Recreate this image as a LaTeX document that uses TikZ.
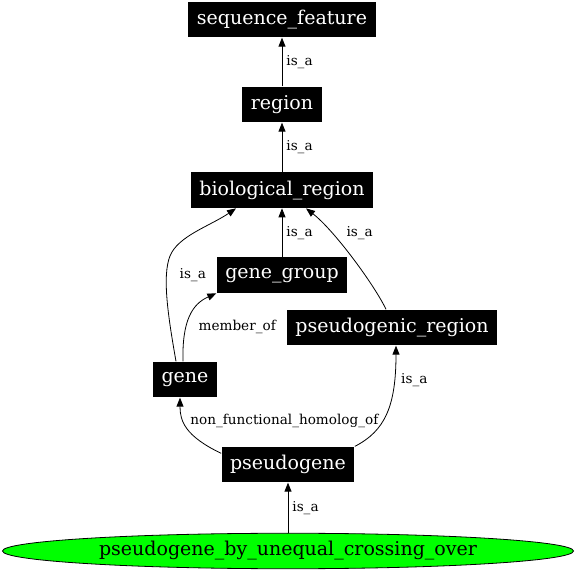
\documentclass[tikz,border=0pt]{standalone}
\usepackage{fontspec}
\setmainfont{DejaVu Serif}
\usetikzlibrary{arrows.meta,shapes.geometric}
\begin{document}
\begin{tikzpicture}
	[x=1pt,y=1pt,>={Triangle[length=9pt,width=7pt]},line width=.8pt,
	every node/.style={rectangle,
	fill=black,text=white,
	inner xsep=8.5pt,minimum height=35.5pt,
	font=\fontsize{19}{22}\selectfont},
	lbl/.style={fill=none,text=black,inner sep=4pt,minimum height=0pt,
	font=\fontsize{13.6}{16}\selectfont}]
	\useasboundingbox (0,0) rectangle (576,576);
	\node (sf) at (282,556.5) {sequence\_feature};
	\node (region) at (282,471.5) {region};
	\node (bio) at (282,385.8) {biological\_region};
	\node (gg) at (282,300.8) {gene\_group};
	\node (pr) at (392,248.5) {pseudogenic\_region};
	\node (gene) at (185,196.5) {gene};
	\node (pg) at (288,111.5) {pseudogene};
	\node[ellipse,draw=black,fill=green,text=black,inner sep=0pt,
	minimum width=571pt] (pgx) at (288,25) {pseudogene\_by\_unequal\_crossing\_over};

	\foreach \from/\to in {region/sf,bio/region,gg/bio,pgx/pg}
	\draw[->] (\from) -- node[lbl,right] {is\_a} (\to);

	\draw[->] ([xshift=-9pt]gene.north) .. controls (168,260) and (162,300) .. (170,320)
	node[lbl,pos=.7,right,xshift=9pt,yshift=4pt] {is\_a}
	.. controls (178,340) and (210,350) .. ([xshift=-46pt]bio.south);
	\draw[->] ([xshift=-2pt]gene.north) .. controls (182,255) and (192,272) .. (gg.south west)
	node[lbl,pos=.4,right,xshift=7pt,yshift=-3.5pt] {member\_of};
	\draw[->] ([xshift=-6pt]pr.north) .. controls (375,290) and (335,345) .. ([xshift=24pt]bio.south)
	node[lbl,pos=.75,right,xshift=13pt,yshift=-3pt] {is\_a};
	\draw[->] ([yshift=-7pt]pg.north west) .. controls (185,140) and (180,155) .. ([xshift=-5pt]gene.south)
	node[lbl,pos=.65,right,xshift=3pt,yshift=-1pt] {non\_functional\_homolog\_of};
	\draw[->] (pg.north east) .. controls (385,145) and (396,170) .. ([xshift=4pt]pr.south)
	node[lbl,pos=.78,right,xshift=2.5pt,yshift=1pt] {is\_a};
\end{tikzpicture}
\end{document}
